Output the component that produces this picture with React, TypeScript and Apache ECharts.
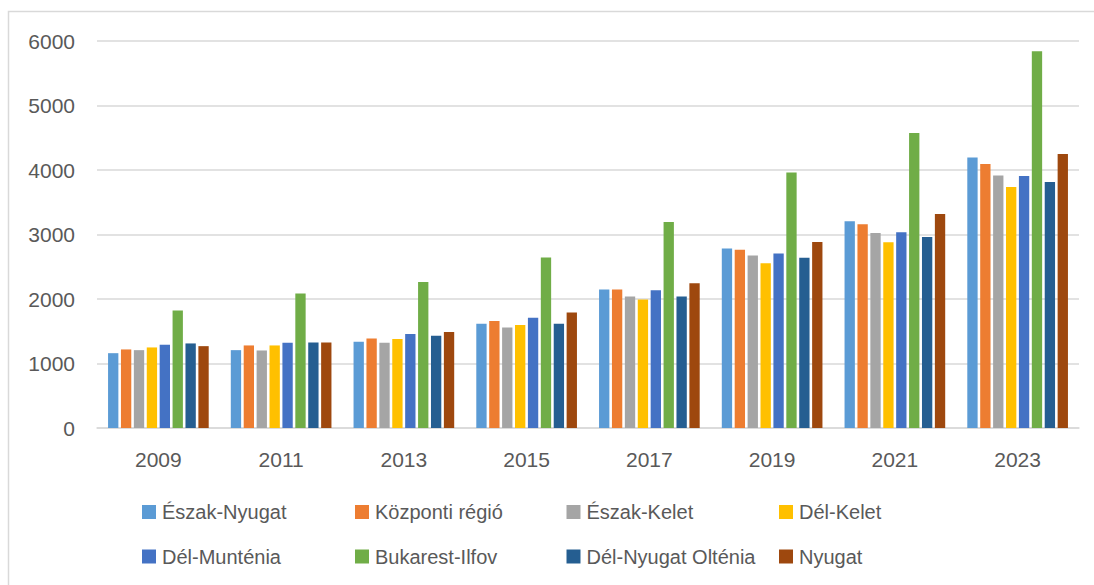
import React, { useEffect, useRef } from "react";
import * as echarts from "echarts";

const years = ["2009", "2011", "2013", "2015", "2017", "2019", "2021", "2023"];
const seriesNames = [
  "Észak-Nyugat",
  "Központi régió",
  "Észak-Kelet",
  "Dél-Kelet",
  "Dél-Munténia",
  "Bukarest-Ilfov",
  "Dél-Nyugat Olténia",
  "Nyugat",
];
const colors = ["#5B9BD5", "#ED7D31", "#A5A5A5", "#FFC000", "#4472C4", "#70AD47", "#255E91", "#9E480E"];

const eszakNyugat = [1160, 1207, 1337, 1617, 2146, 2784, 3205, 4192];
const kozponti = [1218, 1280, 1389, 1658, 2146, 2762, 3158, 4093];
const eszakKelet = [1207, 1202, 1322, 1560, 2037, 2675, 3023, 3913];
const delKelet = [1249, 1280, 1378, 1596, 1991, 2555, 2879, 3736];
const delMuntenia = [1291, 1322, 1456, 1711, 2135, 2706, 3034, 3907];
const bukarest = [1820, 2084, 2265, 2644, 3193, 3960, 4574, 5840];
const delNyugatOltenia = [1311, 1327, 1431, 1617, 2037, 2638, 2961, 3814];
const nyugat = [1269, 1327, 1487, 1789, 2244, 2882, 3318, 4248];

const allValues = [eszakNyugat, kozponti, eszakKelet, delKelet, delMuntenia, bukarest, delNyugatOltenia, nyugat];

const yMin = 0;
const yMax = 6000;
const yInterval = 1000;

export default function App() {
  const ref = useRef<HTMLDivElement>(null);
  useEffect(() => {
    if (!ref.current) return;
    const chart = echarts.init(ref.current, null, { renderer: "svg" });
    const font = "'Liberation Sans', Arial, sans-serif";
    const legendCols = [0, 1, 2, 3].map((c) => ({
      orient: "vertical" as const,
      left: [142, 355, 566.5, 779][c],
      top: 502,
      itemWidth: 14,
      itemHeight: 14,
      itemGap: 24.5,
      icon: "rect",
      padding: 0,
      data: [seriesNames[c], seriesNames[c + 4]],
      textStyle: { fontFamily: font, fontSize: 20, color: "#595959", lineHeight: 20, padding: [0, 0, 0, 1] },
    }));
    chart.setOption({
      animation: false,
      color: colors,
      graphic: [
        {
          type: "rect",
          shape: { x: 8.5, y: 11.5, width: 1200, height: 700 },
          style: { fill: "none", stroke: "#d9d9d9", lineWidth: 1.5 },
          silent: true,
        },
      ],
      grid: { left: 97, right: 15, top: 41, bottom: 157, containLabel: false },
      legend: legendCols,
      xAxis: {
        type: "category",
        data: years,
        axisLine: { lineStyle: { color: "#d9d9d9", width: 1.5 } },
        axisTick: { show: false },
        axisLabel: { fontFamily: font, fontSize: 21, color: "#595959", margin: 21 },
      },
      yAxis: {
        type: "value",
        min: yMin,
        max: yMax,
        interval: yInterval,
        axisLine: { show: false },
        axisTick: { show: false },
        splitLine: { lineStyle: { color: "#d9d9d9", width: 1.5 } },
        axisLabel: {
          fontFamily: font,
          fontSize: 21,
          color: "#595959",
          margin: 22,
          formatter: (v: number) => String(v),
        },
      },
      series: seriesNames.map((name, i) => ({
        name,
        type: "bar",
        data: allValues[i],
        barGap: "25%",
        barCategoryGap: "18%",
        itemStyle: { color: colors[i] },
      })),
    });
    return () => chart.dispose();
  }, []);
  return <div ref={ref} style={{ position: "fixed", left: 0, top: 0, width: 1094, height: 585, background: "#fff" }} />;
}
